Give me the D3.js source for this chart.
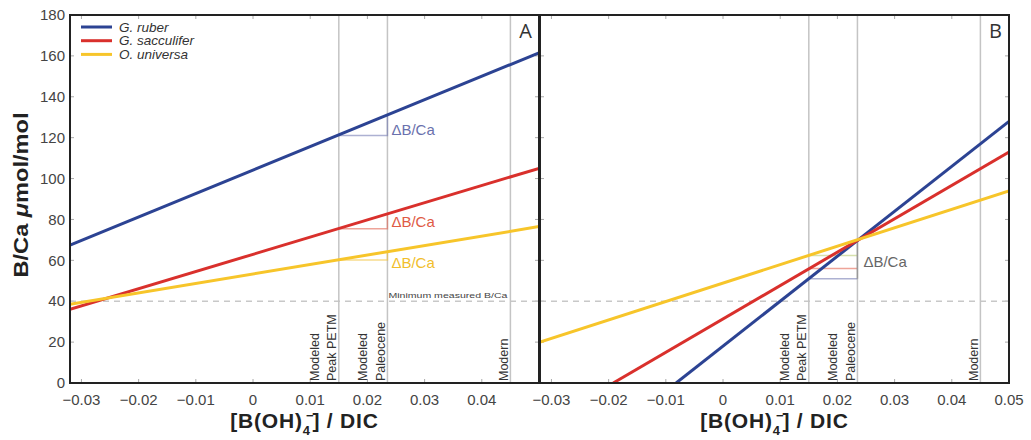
<!DOCTYPE html>
<html>
<head>
<meta charset="utf-8">
<script src="https://cdn.jsdelivr.net/npm/d3@7"></script>
<style>
body { margin: 0; background: #fff; }
text { font-family: "Liberation Sans", Arial, sans-serif; }
</style>
</head>
<body>
<script>
// species + colours
var species = ["G. ruber", "G. sacculifer", "O. universa"];
var colors = ["#2c4393", "#d9302c", "#f7c52a"];
var labelColors = ["#6a71ad", "#e05a45", "#f1be2c"];

var xTicks = [-0.03, -0.02, -0.01, 0, 0.01, 0.02, 0.03, 0.04, 0.05];
var yTicks = [0, 20, 40, 60, 80, 100, 120, 140, 160, 180];

// vertical reference lines ([B(OH)4-]/DIC)
var markers = [0.015, 0.0235, 0.045];
var markerLabels = [["Modeled", "Peak PETM"], ["Modeled", "Paleocene"], ["Modern"]];
var minBCa = 40;

// panel A: line end points [x, B/Ca]
var linesA = [
    [[-0.032, 67.5], [0.05, 161.5]],
    [[-0.032, 36], [0.05, 105]],
    [[-0.032, 38.5], [0.05, 76.5]]
];
var deltaA_petm = [121, 75.5, 60.2];
var deltaA_paleo = [130.8, 82.4, 64.1];
var deltaA_labelY = [124, 79, 59];

// panel B
var linesB = [
    [[-0.0082, 0], [0.05, 128]],
    [[-0.0192, 0], [0.05, 113]],
    [[-0.032, 20], [0.05, 94]]
];
var deltaB_petm = [51, 56, 62.4];
var deltaB_paleo = 70;

var W = 1031, H = 440;
var yTop = 15, yBottom = 383;

var svg = d3.select("body").append("svg")
    .attr("width", W)
    .attr("height", H);

var y = d3.scaleLinear().domain([0, 180]).range([yBottom, yTop]);

var xA = d3.scaleLinear().domain([-0.032, 0.05]).range([70, 539]);
var xB = d3.scaleLinear().domain([-0.032, 0.05]).range([540, 1009]);

var line = function(x) {
    return d3.line().x(d => x(d[0])).y(d => y(d[1]));
};

function drawPanel(x, lines, isA) {
    var g = svg.append("g");
    var x0 = x.range()[0], x1 = x.range()[1];

    g.append("clipPath").attr("id", isA ? "clipA" : "clipB")
        .append("rect")
        .attr("x", x0).attr("y", yTop)
        .attr("width", x1 - x0).attr("height", yBottom - yTop);

    // ticks, inward on all sides
    xTicks.forEach(function(t) {
        [yBottom, yTop].forEach(function(yy, i) {
            g.append("line")
                .attr("x1", x(t)).attr("x2", x(t))
                .attr("y1", yy).attr("y2", i == 0 ? yy - 4 : yy + 4)
                .style("stroke", "#aaa").style("stroke-width", 1);
        });
    });
    yTicks.forEach(function(t) {
        [x0, x1].forEach(function(xx, i) {
            g.append("line")
                .attr("x1", xx).attr("x2", i == 0 ? xx + 4 : xx - 4)
                .attr("y1", y(t)).attr("y2", y(t))
                .style("stroke", "#aaa").style("stroke-width", 1);
        });
    });

    // dashed minimum line
    g.append("line")
        .attr("x1", x0).attr("x2", x1)
        .attr("y1", y(minBCa)).attr("y2", y(minBCa))
        .style("stroke", "#c8c8c8")
        .style("stroke-width", 1.5)
        .style("stroke-dasharray", "6,5");

    // vertical reference lines
    markers.forEach(function(m, i) {
        g.append("line")
            .attr("x1", x(m)).attr("x2", x(m))
            .attr("y1", yTop).attr("y2", yBottom)
            .style("stroke", "#c4c4c4")
            .style("stroke-width", 1.5);

        var labs = markerLabels[i];
        labs.forEach(function(s, j) {
            var off = labs.length == 2 ? (j == 0 ? -20 : -2.5) : -2.5;
            g.append("text")
                .attr("transform", "translate(" + (x(m) + off) + "," + (yBottom - 2) + ") rotate(-90)")
                .style("font-size", "12.5px")
                .style("fill", "#333")
                .text(s);
        });
    });

    // delta B/Ca brackets
    if (isA) {
        [0, 1, 2].forEach(function(k) {
            g.append("path")
                .attr("d", "M" + x(markers[0]) + "," + y(deltaA_petm[k]) +
                    "H" + x(markers[1]) + "V" + y(deltaA_paleo[k]))
                .style("fill", "none")
                .style("stroke", labelColors[k])
                .style("stroke-opacity", 0.55)
                .style("stroke-width", 1.5);
            g.append("text")
                .attr("x", x(markers[1]) + 4)
                .attr("y", y(deltaA_labelY[k]))
                .attr("dy", "0.35em")
                .style("font-size", "15px")
                .style("fill", labelColors[k])
                .text("ΔB/Ca");
        });
        g.append("text")
            .attr("x", x(markers[1]) + 1)
            .attr("y", y(minBCa) - 3)
            .attr("textLength", x(markers[2]) - x(markers[1]) - 4)
            .attr("lengthAdjust", "spacingAndGlyphs")
            .style("font-size", "8px")
            .style("fill", "#444")
            .text("Minimum measured B/Ca");
    } else {
        [0, 1, 2].forEach(function(k) {
            g.append("line")
                .attr("x1", x(markers[0])).attr("x2", x(markers[1]))
                .attr("y1", y(deltaB_petm[k])).attr("y2", y(deltaB_petm[k]))
                .style("stroke", k == 2 ? "#b5c96a" : labelColors[k])
                .style("stroke-opacity", 0.55)
                .style("stroke-width", 1.5);
        });
        g.append("line")
            .attr("x1", x(markers[1])).attr("x2", x(markers[1]))
            .attr("y1", y(deltaB_paleo)).attr("y2", y(deltaB_petm[0]))
            .style("stroke", "#999")
            .style("stroke-width", 1.5);
        g.append("text")
            .attr("x", x(markers[1]) + 6)
            .attr("y", y(59.5))
            .attr("dy", "0.35em")
            .style("font-size", "15px")
            .style("fill", "#666")
            .text("ΔB/Ca");
    }

    // species lines
    g.append("g").attr("clip-path", "url(#" + (isA ? "clipA" : "clipB") + ")")
        .selectAll("path")
        .data(lines)
        .enter().append("path")
        .attr("d", line(x))
        .style("fill", "none")
        .style("stroke", (d, i) => colors[i])
        .style("stroke-width", 3);

    // tick labels
    xTicks.forEach(function(t) {
        if (isA && t == 0.05) return;
        g.append("text")
            .attr("x", x(t))
            .attr("y", 405)
            .attr("text-anchor", "middle")
            .style("font-size", "15px")
            .style("fill", "#444")
            .text(t == 0 ? "0" : d3.format(".2f")(t).replace("-", "\u2212"));
    });
    if (isA) {
        yTicks.forEach(function(t) {
            g.append("text")
                .attr("x", 65)
                .attr("y", y(t))
                .attr("dy", "0.35em")
                .attr("text-anchor", "end")
                .style("font-size", "15px")
                .style("fill", "#444")
                .text(t);
        });
    }

    // frame
    g.append("rect")
        .attr("x", x0).attr("y", yTop)
        .attr("width", x1 - x0).attr("height", yBottom - yTop)
        .style("fill", "none")
        .style("stroke", "#222")
        .style("stroke-width", 2);

    // panel letter
    g.append("text")
        .attr("x", x1 - 7)
        .attr("y", 38)
        .attr("text-anchor", "end")
        .style("font-family", "'Open Sans', sans-serif")
        .style("font-size", "20px")
        .style("fill", "#333")
        .text(isA ? "A" : "B");

    // x axis title
    var t = g.append("text")
        .attr("x", (x0 + x1) / 2)
        .attr("y", 428)
        .attr("text-anchor", "middle")
        .style("font-size", "21px")
        .style("font-weight", "bold")
        .style("letter-spacing", "0.8px")
        .style("fill", "#222");
    t.append("tspan").text("[B(OH)");
    t.append("tspan").attr("dy", 7).style("font-size", "13px").style("letter-spacing", "0px").text("4");
    t.append("tspan").attr("dy", -15).attr("dx", -4).style("font-size", "13px").text("\u2212");
    t.append("tspan").attr("dy", 8).attr("dx", -2).text("] / DIC");
}

drawPanel(xA, linesA, true);
drawPanel(xB, linesB, false);

// legend
species.forEach(function(s, i) {
    var ly = 27 + i * 13.7;
    svg.append("line")
        .attr("x1", 81).attr("x2", 112)
        .attr("y1", ly).attr("y2", ly)
        .style("stroke", colors[i])
        .style("stroke-width", 3);
    svg.append("text")
        .attr("x", 119)
        .attr("y", ly)
        .attr("dy", "0.35em")
        .style("font-size", "13.5px")
        .style("font-style", "italic")
        .style("fill", "#333")
        .text(s);
});

// y axis title
var yt = svg.append("text")
    .attr("transform", "translate(28,195) rotate(-90)")
    .attr("text-anchor", "middle")
    .attr("textLength", 165)
    .attr("lengthAdjust", "spacingAndGlyphs")
    .style("font-size", "21px")
    .style("font-weight", "bold")
    .style("fill", "#222");
yt.append("tspan").text("B/Ca ");
yt.append("tspan").style("font-style", "italic").text("\u03bc");
yt.append("tspan").text("mol/mol");
</script>
</body>
</html>
